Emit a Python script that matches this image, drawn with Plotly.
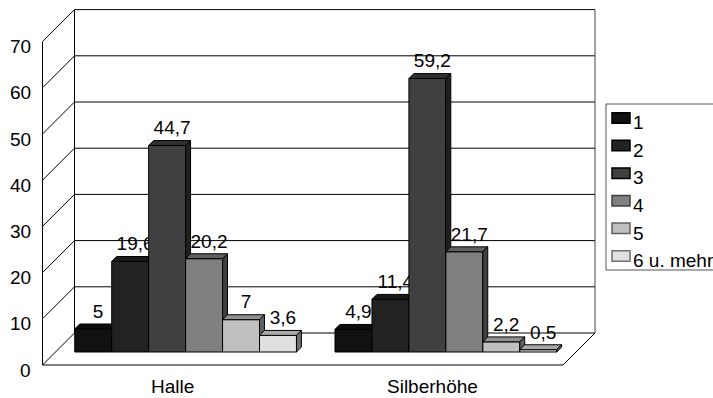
import plotly.graph_objects as go

# ---- data -------------------------------------------------------------
categories = ["Halle", "Silberhöhe"]
series_names = ["1", "2", "3", "4", "5", "6 u. mehr"]
halle = [5, 19.6, 44.7, 20.2, 7, 3.6]
silberhoehe = [4.9, 11.4, 59.2, 21.7, 2.2, 0.5]
y_ticks = [0, 10, 20, 30, 40, 50, 60, 70]

values = [halle, silberhoehe]

# ---- styling ------------------------------------------------------------
front_cols = ["#111111", "#222222", "#404040", "#808080", "#c0c0c0", "#e0e0e0"]


def shade(hex_col, k):
    r, g, b = (int(hex_col[i:i + 2], 16) for i in (1, 3, 5))
    return "#%02x%02x%02x" % (int(r * k), int(g * k), int(b * k))


top_cols = [shade(c, 0.75) for c in front_cols]
side_cols = [shade(c, 0.5) for c in front_cols]

FONT = "Liberation Sans, Arial, sans-serif"
FS = 19

# canvas / projection (pixels)
W, H = 713, 398
X0, KX = 42.5, 260.25      # front-left corner, px per category unit
Y0, KY = 365.0, 4.62       # value 0 on the front edge, px per value unit
DX = 32 / KX               # depth offset of back wall (x, category units)
DY = 32 / KY               # depth offset of back wall (y, value units)
F1, F2 = 0.406, 0.56       # front/back depth fraction of the columns
BW = 0.142                 # column width in category units
LABEL_GAP = 11 / KY        # label centre above column top (value units)

fig = go.Figure()


def poly(xs, ys, fill, line="#000000", lw=1):
    fig.add_trace(go.Scatter(
        x=xs + [xs[0]], y=ys + [ys[0]], mode="lines", fill="toself",
        fillcolor=fill, line=dict(color=line, width=lw),
        hoverinfo="skip", showlegend=False))


def seg(x, y, color="#000000", lw=1):
    fig.add_trace(go.Scatter(x=x, y=y, mode="lines",
                             line=dict(color=color, width=lw),
                             hoverinfo="skip", showlegend=False))


n_cat = len(categories)
vmax = y_ticks[-1]

# back wall gridlines
for v in y_ticks:
    seg([DX, n_cat + DX], [v + DY, v + DY])
# back wall side edges
seg([DX, DX], [DY, vmax + DY])
seg([n_cat + DX, n_cat + DX], [DY, vmax + DY], color="#444444")
# left wall: front axis and diagonals
seg([0, 0], [0, vmax])
for v in y_ticks:
    seg([0, DX], [v, v + DY])
# floor
seg([0, n_cat], [0, 0])
seg([n_cat, n_cat + DX], [0, DY])

# columns, drawn left to right so each one covers its neighbour's side face
for ci, cat_vals in enumerate(values):
    n = len(cat_vals)
    for si, v in enumerate(cat_vals):
        x0 = ci + 0.5 - n / 2 * BW + si * BW
        x1 = x0 + BW
        a0, a1 = x0 + F1 * DX, x1 + F1 * DX
        b0, b1 = x0 + F2 * DX, x1 + F2 * DX
        yf, yb = F1 * DY, F2 * DY
        # front face
        poly([a0, a1, a1, a0], [yf, yf, v + yf, v + yf], front_cols[si])
        # top face
        poly([a0, a1, b1, b0], [v + yf, v + yf, v + yb, v + yb], top_cols[si])
        # right side face
        poly([a1, b1, b1, a1], [yf, yb, v + yb, v + yf], side_cols[si])
        # value label
        fig.add_trace(go.Scatter(
            x=[(x0 + x1) / 2 + F2 * DX], y=[v + yb + LABEL_GAP],
            mode="text", text=[str(v).replace(".", ",")],
            textposition="middle center",
            textfont=dict(family=FONT, size=FS, color="#000000"),
            hoverinfo="skip", showlegend=False))

annotations = []
# value axis labels
for v in y_ticks:
    annotations.append(dict(
        x=0, y=v, xref="x", yref="y", text=str(v), showarrow=False,
        xanchor="right", yanchor="middle", xshift=-10, yshift=-5,
        font=dict(family=FONT, size=FS, color="#000000")))
# category labels
for ci, name in enumerate(categories):
    annotations.append(dict(
        x=ci + 0.5, y=0, xref="x", yref="y", text=name, showarrow=False,
        xanchor="center", yanchor="middle", yshift=-21,
        font=dict(family=FONT, size=FS, color="#000000")))

# legend (drawn by hand so it can run past the right edge)
def px_x(p):
    return p / W


def px_y(p):
    return 1 - p / H


shapes = [dict(type="rect", xref="paper", yref="paper",
               x0=px_x(606), x1=px_x(730), y0=px_y(270), y1=px_y(104),
               line=dict(color="#555555", width=1), fillcolor="#ffffff",
               layer="below")]
LEG_TOP, LEG_STEP = 112.7, 27.6
for i, name in enumerate(series_names):
    t = LEG_TOP + i * LEG_STEP
    shapes.append(dict(type="rect", xref="paper", yref="paper",
                       x0=px_x(612), x1=px_x(630), y0=px_y(t + 10.5), y1=px_y(t),
                       line=dict(color=side_cols[i] if i > 2 else "#000000", width=1.5),
                       fillcolor=front_cols[i]))
    annotations.append(dict(
        x=px_x(631), y=px_y(t + 10), xref="paper", yref="paper", text=name,
        showarrow=False, xanchor="left", yanchor="middle",
        font=dict(family=FONT, size=FS, color="#000000")))

fig.update_layout(
    width=W, height=H, autosize=False,
    margin=dict(l=0, r=0, t=0, b=0, pad=0),
    paper_bgcolor="#ffffff", plot_bgcolor="#ffffff",
    showlegend=False,
    xaxis=dict(range=[-X0 / KX, (W - X0) / KX], visible=False, fixedrange=True),
    yaxis=dict(range=[-(H - Y0) / KY, Y0 / KY], visible=False, fixedrange=True),
    annotations=annotations, shapes=shapes,
)

fig.write_html("out.html")
